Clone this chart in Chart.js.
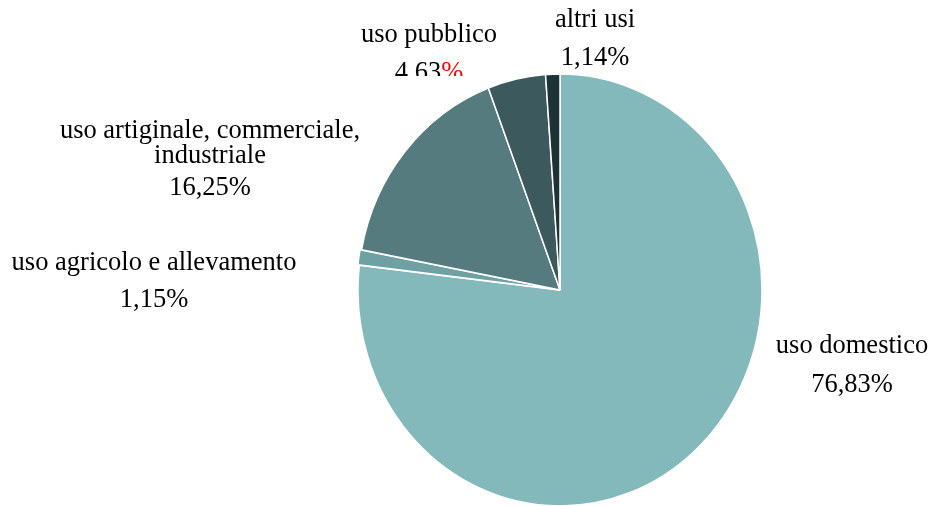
<!DOCTYPE html>
<html lang="it">
<head>
<meta charset="utf-8">
<title>Uso dell'acqua per destinazione</title>
<script src="https://cdn.jsdelivr.net/npm/chart.js@4/dist/chart.umd.min.js"></script>
<style>
  html, body { margin: 0; padding: 0; background: #ffffff; }
  #wrap { width: 933px; height: 506px; position: relative; }
</style>
</head>
<body>
<div id="wrap"><canvas id="pie" width="933" height="506"></canvas></div>
<script>
// Categories and shares (%), clockwise from 12 o'clock
const categories = [
  'uso domestico',
  'uso agricolo e allevamento',
  'uso artiginale, commerciale, industriale',
  'uso pubblico',
  'altri usi'
];
const shares = [76.83, 1.15, 16.25, 4.63, 1.14];

// Label text split into lines
const labelLines = [
  ['uso domestico'],
  ['uso agricolo e allevamento'],
  ['uso artiginale, commerciale,', 'industriale'],
  ['uso pubblico'],
  ['altri usi']
];

const sliceColors = ['#84b9bc', '#6fa1a4', '#567b7e', '#3c5a5d', '#1d3336'];
const sliceOffsets = [0, 3, 0, 0, 0];

// Where each label block sits: centre x, baseline of first line, baseline of value
const labelLayout = [
  { x: 852, y: 353, vy: 392 },
  { x: 154, y: 270, vy: 307 },
  { x: 210, y: 138, vy: 195, lineGap: 25 },
  { x: 429, y: 42,  vy: 80, pctColor: '#ff0000', clipBottom: 76 },
  { x: 595, y: 27,  vy: 65 }
];

const FONT = '26.5px "Liberation Serif", "Times New Roman", serif';
const fmt = v => v.toFixed(2).replace('.', ',');

// Stretch the pie vertically a little around its centre
const ellipsePlugin = {
  id: 'ellipse',
  beforeDatasetsDraw(chart) {
    const arc = chart.getDatasetMeta(0).data[0];
    const ctx = chart.ctx;
    ctx.save();
    ctx.translate(arc.x, arc.y);
    ctx.scale(1, 216 / 202);
    ctx.translate(-arc.x, -arc.y);
  },
  afterDatasetsDraw(chart) {
    chart.ctx.restore();
  }
};

// Category name and percentage next to each slice
const sliceLabels = {
  id: 'sliceLabels',
  afterDraw(chart) {
    const ctx = chart.ctx;
    ctx.save();
    ctx.font = FONT;
    ctx.textBaseline = 'alphabetic';
    labelLayout.forEach((pos, i) => {
      const lines = labelLines[i];
      ctx.fillStyle = '#000000';
      ctx.textAlign = 'center';
      lines.forEach((t, k) => {
        ctx.fillText(t, pos.x, pos.y + k * (pos.lineGap || 25));
      });
      const num = fmt(shares[i]);
      ctx.save();
      if (pos.clipBottom) {
        ctx.beginPath();
        ctx.rect(0, 0, chart.width, pos.clipBottom);
        ctx.clip();
      }
      const wNum = ctx.measureText(num).width;
      const wPct = ctx.measureText('%').width;
      const left = pos.x - (wNum + wPct) / 2;
      ctx.textAlign = 'left';
      ctx.fillStyle = '#000000';
      ctx.fillText(num, left, pos.vy);
      ctx.fillStyle = pos.pctColor || '#000000';
      ctx.fillText('%', left + wNum, pos.vy);
      ctx.restore();
    });
    ctx.restore();
  }
};

new Chart(document.getElementById('pie'), {
  type: 'pie',
  data: {
    labels: categories,
    datasets: [{
      data: shares,
      backgroundColor: sliceColors,
      borderColor: '#ffffff',
      borderWidth: 1.5,
      offset: sliceOffsets,
      hoverOffset: 0
    }]
  },
  options: {
    responsive: false,
    animation: false,
    events: [],
    radius: 202,
    rotation: 0,
    layout: { padding: { left: 187, right: 0, top: 74, bottom: 0 } },
    plugins: {
      legend: { display: false },
      tooltip: { enabled: false },
      title: { display: false }
    }
  },
  plugins: [ellipsePlugin, sliceLabels]
});
</script>
</body>
</html>
